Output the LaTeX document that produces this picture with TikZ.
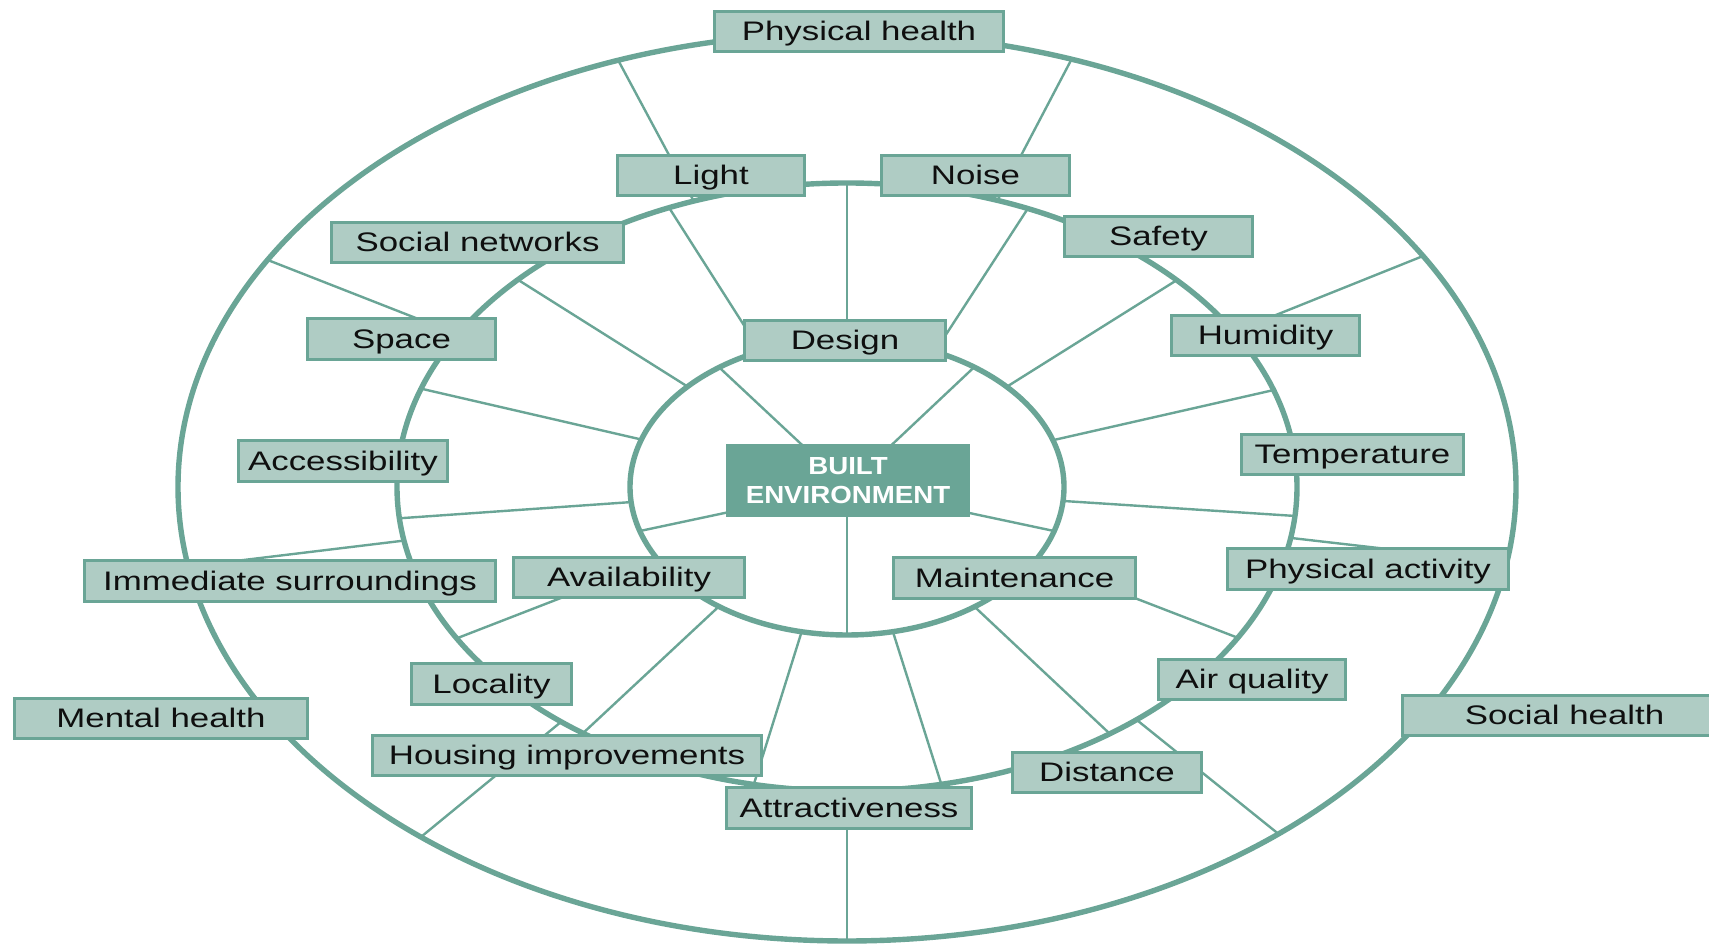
\documentclass[tikz,border=0pt]{standalone}
\usepackage{fontspec}
\setmainfont{Liberation Sans}[FakeStretch=1.30]
\newfontfamily\hubfont{Liberation Sans}[FakeStretch=1.12]
\definecolor{wheelteal}{RGB}{106,165,150}
\definecolor{boxsage}{RGB}{175,204,196}
\definecolor{inkgrey}{RGB}{15,15,15}
\tikzset{
  ringline/.style={draw=wheelteal, line width=5.4pt},
  spokeline/.style={draw=wheelteal, line width=2.4pt},
  factorbox/.style={draw=wheelteal, fill=boxsage, line width=2.8pt, inner sep=0pt,
    minimum height=40.5pt, text height=19pt, text depth=0pt, text=inkgrey,
    font=\fontsize{26.8}{30}\selectfont},
  hubbox/.style={draw=wheelteal, fill=wheelteal, line width=2pt, inner sep=0pt,
    minimum width=242pt, minimum height=71pt, align=center, text=white,
    font=\hubfont\bfseries\fontsize{24.7}{29}\selectfont}
}
\begin{document}
\begin{tikzpicture}[x=1pt,y=1pt]
  \useasboundingbox (0,0) rectangle (1709,944);
  \coordinate (c) at (847,457);
\begin{scope}
\clip (c) ellipse [x radius=669pt, y radius=454pt];
\draw[spokeline] (c) -- ++(118.2:700);
\draw[spokeline] (c) -- ++(62.3:700);
\draw[spokeline] (c) -- ++(158.6:700);
\draw[spokeline] (c) -- ++(21.85:700);
\draw[spokeline] (c) -- ++(186.9:700);
\draw[spokeline] (c) -- ++(353.45:700);
\draw[spokeline] (c) -- ++(219.4:700);
\draw[spokeline] (c) -- ++(321.2:700);
\draw[spokeline] (c) -- ++(270:700);
\end{scope}
\fill[white] (c) ellipse [x radius=450pt, y radius=304pt];
\begin{scope}
\clip (c) ellipse [x radius=450pt, y radius=304pt];
\draw[spokeline] (c) -- ++(90:500);
\draw[spokeline] (c) -- ++(122.5:500);
\draw[spokeline] (c) -- ++(57:500);
\draw[spokeline] (c) -- ++(147.8:500);
\draw[spokeline] (c) -- ++(32.1:500);
\draw[spokeline] (c) -- ++(167:500);
\draw[spokeline] (c) -- ++(12.8:500);
\draw[spokeline] (c) -- ++(184:500);
\draw[spokeline] (c) -- ++(356.3:500);
\draw[spokeline] (c) -- ++(201.2:500);
\draw[spokeline] (c) -- ++(338.9:500);
\draw[spokeline] (c) -- ++(223:500);
\draw[spokeline] (c) -- ++(316.8:500);
\draw[spokeline] (c) -- ++(252.6:500);
\draw[spokeline] (c) -- ++(287.6:500);
\end{scope}
\fill[white] (c) ellipse [x radius=217pt, y radius=148pt];
\begin{scope}
\clip (c) ellipse [x radius=217pt, y radius=148pt];
\draw[spokeline] (c) -- ++(136.9:250);
\draw[spokeline] (c) -- ++(43.3:250);
\draw[spokeline] (c) -- ++(192:250);
\draw[spokeline] (c) -- ++(348:250);
\draw[spokeline] (c) -- ++(270:250);
\end{scope}
\draw[ringline] (c) ellipse [x radius=669pt, y radius=454pt];
\draw[ringline] (c) ellipse [x radius=450pt, y radius=304pt];
\draw[ringline] (c) ellipse [x radius=217pt, y radius=148pt];
\node[hubbox] (built) at (848,463.5) {BUILT\\ENVIRONMENT};
\node[factorbox, minimum width=289pt] (physical) at (859,912.5) {Physical health};
\node[factorbox, minimum width=187pt] (light) at (711,768.5) {Light};
\node[factorbox, minimum width=188pt] (noise) at (975.5,768.5) {Noise};
\node[factorbox, minimum width=292pt] (social) at (477.5,701.5) {Social networks};
\node[factorbox, minimum width=188pt] (safety) at (1158.5,707.5) {Safety};
\node[factorbox, minimum width=188pt] (space) at (401.5,605) {Space};
\node[factorbox, minimum width=201pt] (design) at (845,603.5) {Design};
\node[factorbox, minimum width=188pt] (humidity) at (1265.5,608.5) {Humidity};
\node[factorbox, minimum width=209pt] (access) at (343,483) {Accessibility};
\node[factorbox, minimum width=222pt] (temp) at (1352.5,489.5) {Temperature};
\node[factorbox, minimum width=411pt] (immediate) at (290,363) {Immediate surroundings};
\node[factorbox, minimum width=231pt] (avail) at (629,366.5) {Availability};
\node[factorbox, minimum width=242pt] (maint) at (1014.5,366) {Maintenance};
\node[factorbox, minimum width=281pt] (activity) at (1368,375) {Physical activity};
\node[factorbox, minimum width=160pt] (locality) at (491.5,260) {Locality};
\node[factorbox, minimum width=293pt] (mental) at (161,225.5) {Mental health};
\node[factorbox, minimum width=187pt] (air) at (1252,264.5) {Air quality};
\node[factorbox, minimum width=324pt] (socialh) at (1564.5,228.5) {Social health};
\node[factorbox, minimum width=389pt] (housing) at (567,188.5) {Housing improvements};
\node[factorbox, minimum width=189pt] (distance) at (1107,171.5) {Distance};
\node[factorbox, minimum width=245pt] (attract) at (849,136) {Attractiveness};
\end{tikzpicture}
\end{document}
